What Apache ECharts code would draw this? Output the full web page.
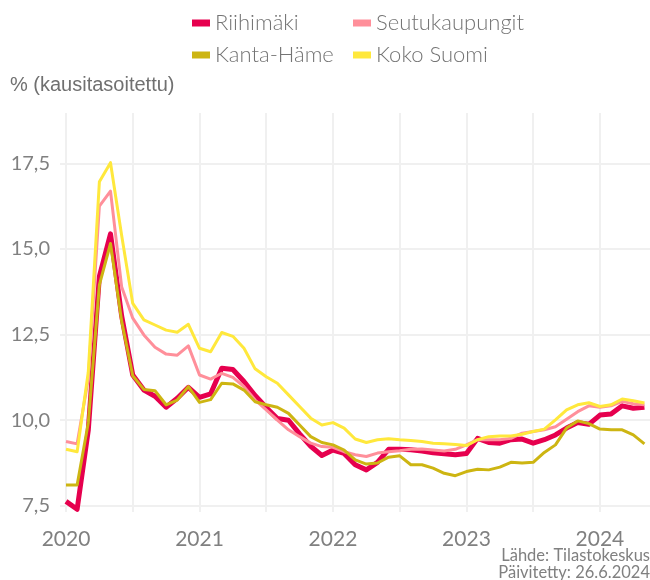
<!DOCTYPE html>
<html>
<head>
<meta charset="utf-8">
<script src="https://cdn.jsdelivr.net/npm/echarts@6/dist/echarts.min.js"></script>
<style>
  html, body { margin: 0; padding: 0; background: #fff; }
  #main { width: 650px; height: 580px; }
</style>
</head>
<body>
<div id="main"></div>
<script>
// kuukaudet 2020-01 ... 2024-05
var months = []
for (var y = 2020; y <= 2024; y++) {
  for (var m = 1; m <= 12; m++) {
    if (y === 2024 && m > 5) break
    months.push(y + '-' + (m < 10 ? '0' + m : m))
  }
}

var riihimaki = [7.63, 7.4, 9.7, 14.2, 15.44, 13.05, 11.32, 10.88, 10.7, 10.38, 10.64, 10.96,
  10.67, 10.77, 11.52, 11.48, 11.13, 10.72, 10.37, 10.05, 10.0, 9.6, 9.24, 8.97,
  9.13, 9.03, 8.7, 8.55, 8.77, 9.15, 9.15, 9.14, 9.1, 9.05, 9.02, 8.99,
  9.03, 9.47, 9.35, 9.33, 9.43, 9.45, 9.33, 9.43, 9.57, 9.77, 9.93, 9.88,
  10.15, 10.18, 10.42, 10.35, 10.38]
var seutukaupungit = [9.38, 9.31, 11.2, 16.25, 16.69, 13.9, 12.98, 12.49, 12.13, 11.93, 11.9, 12.17,
  11.32, 11.2, 11.37, 11.25, 10.98, 10.59, 10.3, 10.0, 9.72, 9.52, 9.33, 9.23,
  9.21, 9.08, 8.99, 8.94, 9.04, 9.08, 9.11, 9.15, 9.16, 9.13, 9.1, 9.15,
  9.28, 9.43, 9.43, 9.43, 9.47, 9.62, 9.67, 9.72, 9.81, 10.03, 10.25, 10.42,
  10.38, 10.42, 10.55, 10.48, 10.45]
var kantaHame = [8.11, 8.11, 9.92, 13.95, 15.16, 12.9, 11.3, 10.9, 10.86, 10.45, 10.59, 10.98,
  10.52, 10.6, 11.08, 11.06, 10.88, 10.54, 10.45, 10.38, 10.2, 9.86, 9.52, 9.35,
  9.28, 9.13, 8.84, 8.72, 8.75, 8.92, 8.96, 8.7, 8.7, 8.6, 8.45, 8.38,
  8.5, 8.57, 8.55, 8.63, 8.77, 8.75, 8.77, 9.06, 9.28, 9.77, 9.98, 9.9,
  9.74, 9.72, 9.72, 9.57, 9.31]
var kokoSuomi = [9.15, 9.08, 11.4, 16.96, 17.52, 15.4, 13.41, 12.93, 12.78, 12.63, 12.57, 12.8,
  12.1, 12.0, 12.56, 12.45, 12.1, 11.5, 11.27, 11.08, 10.74, 10.4, 10.06, 9.86,
  9.93, 9.77, 9.45, 9.35, 9.43, 9.46, 9.43, 9.41, 9.38, 9.33, 9.31, 9.29,
  9.26, 9.43, 9.52, 9.54, 9.54, 9.59, 9.67, 9.74, 10.01, 10.3, 10.45, 10.51,
  10.4, 10.45, 10.62, 10.57, 10.5]

var yTicks = [7.5, 10.0, 12.5, 15.0, 17.5]
var xTicks = [2020, 2021, 2022, 2023, 2024]
var xGrid = [2020, 2020.5, 2021, 2021.5, 2022, 2022.5, 2023, 2023.5, 2024]

var names = ['Riihimäki', 'Seutukaupungit', 'Kanta-Häme', 'Koko Suomi']
var colors = ['#E6004E', '#FF8F9A', '#CDB512', '#FFE83C']
var widths = [5, 3, 3, 3]
var values = [riihimaki, seutukaupungit, kantaHame, kokoSuomi]

// kuukausi -> vuosi desimaalina
function toX(s) {
  var p = s.split('-')
  return Number(p[0]) + (Number(p[1]) - 1) / 12
}

var series = names.map(function (n, i) {
  return {
    name: n,
    type: 'line',
    symbol: 'none',
    lineStyle: { width: widths[i], color: colors[i], join: 'round' },
    itemStyle: { color: colors[i] },
    data: values[i].map(function (v, j) { return [toX(months[j]), v] })
  }
})

var legendPos = [[187, 7], [348, 7], [187, 39], [348, 39]]
var legends = names.map(function (n, i) {
  return {
    data: [n],
    left: legendPos[i][0],
    top: legendPos[i][1],
    icon: 'rect',
    itemWidth: 18,
    itemHeight: 7,
    itemGap: 10,
    textStyle: { fontFamily: 'Lato', fontSize: 22, color: '#747474', fontWeight: 300 },
    selectedMode: false
  }
})

var myChart = echarts.init(document.getElementById('main'))
var option = {
  animation: false,
  backgroundColor: '#fff',
  legend: legends,
  grid: { left: 60, right: 0, top: 113, bottom: 68, containLabel: false },
  xAxis: {
    type: 'value',
    min: 2019.955,
    max: 2024.375,
    axisLine: { show: false },
    axisTick: { show: false, customValues: xGrid },
    splitLine: { show: true, lineStyle: { color: '#F0F0F0', width: 2 } },
    axisLabel: {
      customValues: xTicks,
      margin: 17,
      fontFamily: 'Lato',
      fontSize: 21,
      color: '#808080',
      formatter: function (v) { return String(v) }
    }
  },
  yAxis: {
    type: 'value',
    min: 7.32,
    max: 18.97,
    axisLine: { show: false },
    axisTick: { show: false, customValues: yTicks },
    splitLine: { show: true, lineStyle: { color: '#F0F0F0', width: 2 } },
    axisLabel: {
      customValues: yTicks,
      margin: 10,
      fontFamily: 'Lato',
      fontSize: 20,
      color: '#808080',
      formatter: function (v) { return v.toFixed(1).replace('.', ',') }
    }
  },
  graphic: [
    { type: 'text', left: 10, top: 75,
      style: { text: '% (kausitasoitettu)', font: '20px "Liberation Sans"', fill: '#707070' } },
    { type: 'text', right: 0, top: 547,
      style: { text: 'Lähde: Tilastokeskus', font: '16.5px Lato', fill: '#808080', textAlign: 'right' } },
    { type: 'text', right: 0, top: 564,
      style: { text: 'Päivitetty: 26.6.2024', font: '16.5px Lato', fill: '#808080', textAlign: 'right' } }
  ],
  series: series
}
myChart.setOption(option)
</script>
</body>
</html>
